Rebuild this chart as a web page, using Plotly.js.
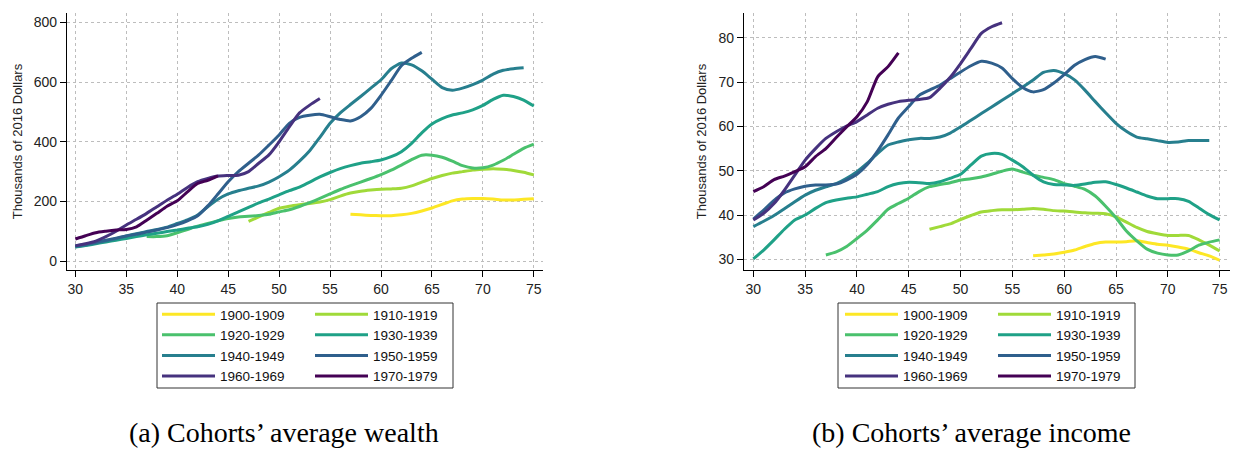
<!DOCTYPE html>
<html>
<head>
<meta charset="utf-8">
<script src="https://cdn.plot.ly/plotly-3.0.1.min.js"></script>
<style>
html,body{margin:0;padding:0;background:#fff;}
#chart{width:1233px;height:450px;}
</style>
</head>
<body>
<div id="chart"></div>
<script>
// ---------------- DATA ----------------
var cohorts = ["1900-1909","1910-1919","1920-1929","1930-1939","1940-1949","1950-1959","1960-1969","1970-1979"];
var startAges = [57, 47, 37, 30, 30, 30, 30, 30];
var colors = ["#fde725","#a0da39","#4ac16d","#1fa187","#277f8e","#2f5f8c","#46327e","#440154"];

// Panel (a): average wealth, thousands of 2016 dollars
var wealth1900 = [157,155,153,152,152,155,160,168,178,190,202,208,210,210,208,205,205,207,209];
var wealth1910 = [133,148,163,177,184,189,193,198,206,218,228,234,238,241,242,244,252,265,277,287,295,300,305,308,310,308,304,298,289];
var wealth1920 = [82,82,85,95,106,117,126,135,143,148,150,153,157,165,172,183,196,210,225,240,253,265,277,290,305,322,340,355,355,348,335,320,312,313,322,338,358,378,392];
var wealth1930 = [47,52,58,64,70,76,82,88,93,99,104,110,115,123,135,150,165,180,195,208,222,236,248,265,282,297,310,320,328,333,339,350,367,395,430,460,478,490,497,507,522,542,556,552,540,520];
var wealth1940 = [48,53,60,67,75,84,92,99,106,114,126,138,154,182,207,225,236,244,252,265,283,305,335,370,415,462,497,525,552,580,608,645,664,658,638,610,582,573,580,592,607,627,640,645,648];
var wealth1950 = [51,56,63,70,77,84,90,97,104,112,122,135,152,185,225,266,300,328,356,389,423,462,482,489,492,484,475,470,484,512,556,605,655,680,700];
var wealth1960 = [51,58,67,82,100,121,140,160,182,204,224,247,266,277,285,287,288,300,328,356,400,450,497,523,545];
var wealth1970 = [74,85,95,100,104,106,115,137,160,184,202,232,260,271,286];

// Panel (b): average income, thousands of 2016 dollars
var income1900 = [30.8,31.0,31.2,31.6,32.1,32.9,33.6,33.9,33.9,34.0,34.2,33.8,33.4,33.2,32.8,32.3,31.5,30.8,29.8];
var income1910 = [36.8,37.4,38.0,39.0,39.9,40.7,41.0,41.2,41.2,41.3,41.5,41.3,41.0,40.9,40.7,40.5,40.4,40.3,39.6,38.4,37.2,36.3,35.8,35.4,35.4,35.4,34.4,33.2,31.9];
var income1920 = [31.0,31.7,32.9,34.7,36.6,38.9,41.3,42.6,43.8,45.3,46.4,46.9,47.3,47.9,48.2,48.6,49.2,49.9,50.4,49.7,49.0,48.5,48.0,47.1,46.5,45.8,44.3,42.0,39.4,36.4,34.2,32.3,31.4,31.0,31.0,31.9,33.2,33.9,34.4];
var income1930 = [30.1,32.1,34.4,36.8,38.9,40.0,41.5,42.8,43.4,43.8,44.1,44.7,45.3,46.4,47.1,47.4,47.3,47.1,47.5,48.3,49.2,51.3,53.3,53.9,53.7,52.4,50.9,49.0,47.5,46.9,46.8,46.7,47.0,47.4,47.5,46.9,46.1,45.2,44.3,43.7,43.7,43.7,43.1,41.6,40.1,38.9];
var income1940 = [37.4,38.6,39.9,41.4,43.0,44.5,45.6,46.4,47.1,48.3,49.8,51.7,53.9,55.8,56.5,57.0,57.3,57.3,57.6,58.5,59.9,61.4,62.9,64.4,65.9,67.4,68.9,70.5,72.2,72.6,71.9,70.5,68.2,65.6,63.1,60.7,58.9,57.6,57.2,56.8,56.4,56.5,56.8,56.8,56.8];
var income1950 = [39.1,41.1,43.3,45.0,45.9,46.5,46.8,46.8,47.0,47.9,49.2,51.4,54.5,58.1,61.9,64.5,67.0,68.2,69.3,70.8,72.3,73.7,74.7,74.3,73.2,70.8,68.8,67.8,68.3,69.8,71.7,73.8,75.1,75.8,75.2];
var income1960 = [38.9,40.4,42.6,45.6,49.0,52.4,55.0,57.3,58.8,60.1,61.1,62.6,64.1,65.0,65.6,65.9,66.1,66.5,68.6,71.1,74.2,77.6,81.0,82.5,83.4];
var income1970 = [45.3,46.4,48.0,48.8,49.8,50.9,53.2,55.0,57.5,59.9,62.2,65.6,71.2,73.5,76.6];

var xTicks = [30,35,40,45,50,55,60,65,70,75];
var wealthTicks = [0,200,400,600,800];
var incomeTicks = [30,40,50,60,70,80];
var yTitle = "Thousands of 2016 Dollars";
var captionA = "(a) Cohorts’ average wealth";
var captionB = "(b) Cohorts’ average income";

var wealthSeries = [wealth1900,wealth1910,wealth1920,wealth1930,wealth1940,wealth1950,wealth1960,wealth1970];
var incomeSeries = [income1900,income1910,income1920,income1930,income1940,income1950,income1960,income1970];

// ---------------- LAYOUT HELPERS ----------------
var W = 1233, H = 450;
function px(x){ return x / W; }
function py(y){ return 1 - y / H; }

function agesFor(i, n){
  var a = [];
  for (var k = 0; k < n; k++) a.push(startAges[i] + k);
  return a;
}

var traces = [];
// legend column assignment: even index -> left column, odd -> right column
function makeTraces(series, xa, ya, legLeft, legRight){
  for (var i = 0; i < series.length; i++){
    traces.push({
      type: 'scatter', mode: 'lines',
      x: agesFor(i, series[i].length), y: series[i],
      xaxis: xa, yaxis: ya,
      name: cohorts[i],
      legend: (i % 2 === 0) ? legLeft : legRight,
      line: {color: colors[i], width: 3, shape: 'spline', smoothing: 0.6},
      hoverinfo: 'x+y+name'
    });
  }
}
makeTraces(wealthSeries, 'x', 'y', 'legend', 'legend2');
makeTraces(incomeSeries, 'x2', 'y2', 'legend3', 'legend4');

var fontSans = 'Liberation Sans, Arial, Helvetica, sans-serif';
var tickFont = {family: fontSans, size: 14, color: '#222'};

function xAxis(domain, range, anchor){
  return {
    domain: domain, range: range, anchor: anchor,
    tickmode: 'array', tickvals: xTicks,
    showline: true, linecolor: '#000', linewidth: 1.2,
    ticks: 'outside', ticklen: 6, tickcolor: '#000', tickwidth: 1,
    showgrid: true, gridcolor: '#bdbdbd', griddash: 'dot', gridwidth: 1,
    zeroline: false, tickfont: tickFont, fixedrange: true
  };
}
function yAxis(domain, range, anchor, ticks, standoff){
  return {
    domain: domain, range: range, anchor: anchor,
    tickmode: 'array', tickvals: ticks,
    showline: true, linecolor: '#000', linewidth: 1.2,
    ticks: 'outside', ticklen: 6, tickcolor: '#000', tickwidth: 1,
    showgrid: true, gridcolor: '#bdbdbd', griddash: 'dot', gridwidth: 1,
    zeroline: false, tickfont: tickFont, fixedrange: true,
    title: {text: yTitle, font: {family: fontSans, size: 13, color: '#222'}, standoff: standoff}
  };
}

var yDom = [py(270), py(13)];

function legendAt(xPix){
  return {
    x: px(xPix), y: py(299), xanchor: 'left', yanchor: 'top',
    orientation: 'v', bgcolor: 'rgba(0,0,0,0)', borderwidth: 0,
    font: {family: fontSans, size: 13.5, color: '#111'},
    itemwidth: 53, tracegroupgap: 0, itemclick: false, itemdoubleclick: false
  };
}

var layout = {
  width: W, height: H,
  margin: {l: 0, r: 0, t: 0, b: 0},
  paper_bgcolor: '#fff', plot_bgcolor: '#fff',
  showlegend: true,
  xaxis: xAxis([px(67), px(543)], [29.18, 75.9], 'y'),
  yaxis: yAxis(yDom, [-30, 832], 'x', wealthTicks, 8),
  xaxis2: xAxis([px(744), px(1230)], [29.1, 76], 'y2'),
  yaxis2: yAxis(yDom, [27.6, 85.6], 'x2', incomeTicks, 8),
  legend: legendAt(157),
  legend2: legendAt(310),
  legend3: legendAt(840),
  legend4: legendAt(993),
  shapes: [
    {type: 'rect', xref: 'paper', yref: 'paper', x0: px(157), x1: px(453), y0: py(388), y1: py(303),
     line: {color: '#333', width: 1}, fillcolor: 'rgba(0,0,0,0)'},
    {type: 'rect', xref: 'paper', yref: 'paper', x0: px(838), x1: px(1135), y0: py(388), y1: py(303),
     line: {color: '#333', width: 1}, fillcolor: 'rgba(0,0,0,0)'}
  ],
  annotations: [
    {text: captionA, xref: 'paper', yref: 'paper', x: px(284), y: 0, xanchor: 'center', yanchor: 'bottom',
     showarrow: false, font: {family: 'Liberation Serif, Times New Roman, serif', size: 28, color: '#000'}},
    {text: captionB, xref: 'paper', yref: 'paper', x: px(971), y: 0, xanchor: 'center', yanchor: 'bottom',
     showarrow: false, font: {family: 'Liberation Serif, Times New Roman, serif', size: 28, color: '#000'}}
  ]
};

Plotly.newPlot('chart', traces, layout, {displayModeBar: false, staticPlot: false, responsive: false});
</script>
</body>
</html>
